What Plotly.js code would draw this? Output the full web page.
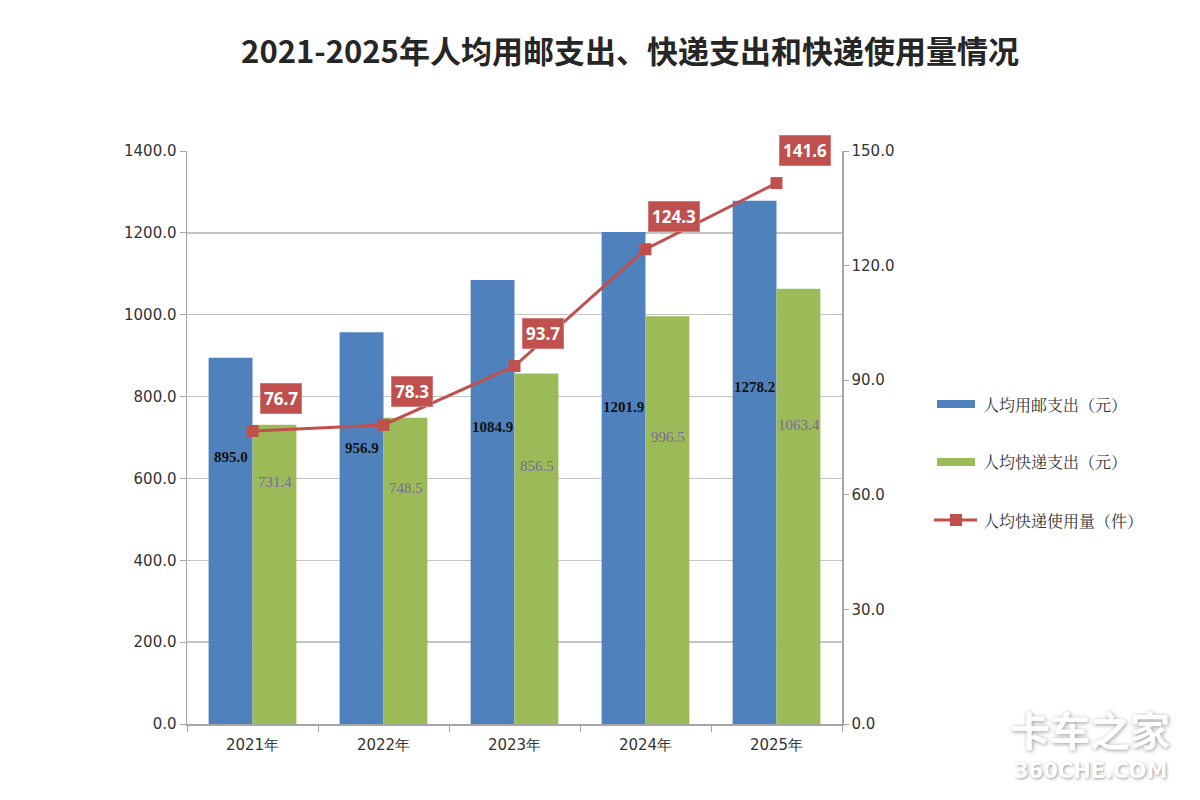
<!DOCTYPE html>
<html>
<head>
<meta charset="utf-8">
<script src="https://cdn.plot.ly/plotly-3.0.1.min.js"></script>
<style>
  html, body { margin: 0; padding: 0; background: #ffffff; }
  #chart { width: 1200px; height: 800px; }
</style>
</head>
<body>
<div id="chart"></div>
<script>
// Yearly postal / express spending per person and express parcels per person
const years = ['2021年', '2022年', '2023年', '2024年', '2025年'];
const postalSpend = [895.0, 956.9, 1084.9, 1201.9, 1278.2];   // 人均用邮支出（元）
const expressSpend = [731.4, 748.5, 856.5, 996.5, 1063.4];    // 人均快递支出（元）
const expressCount = [76.7, 78.3, 93.7, 124.3, 141.6];        // 人均快递使用量（件）

const seriesNames = ['人均用邮支出（元）', '人均快递支出（元）', '人均快递使用量（件）'];
const titleText = '2021-2025年人均用邮支出、快递支出和快递使用量情况';

// Styling
const BLUE = '#4f81bd';
const GREEN = '#9bbb59';
const RED = '#c0504d';
const PURPLE = '#8064a2';
const AXIS_GRAY = '#a6a6a6';
const GRID_GRAY = '#c4c4c4';
const SANS = 'DejaVu Sans, sans-serif';
const CJK = 'Noto Sans CJK SC, sans-serif';
const SERIF = 'Liberation Serif, serif';

// Plot area in page pixels
const W = 1200, H = 800;
const PL = 187, PR = 842, PT = 151, PB = 724;
const px2paperX = px => (px - PL) / (PR - PL);
const px2paperY = py => (PB - py) / (PB - PT);

// Where the in-bar value labels sit (left-axis units)
const postalLabelAt = [652, 674, 726, 775, 823];
const expressLabelAt = [591, 577, 630, 701, 731];

const traces = [
  {
    type: 'bar', name: seriesNames[0], x: years, y: postalSpend,
    marker: { color: BLUE }, yaxis: 'y', showlegend: false, hoverinfo: 'x+y'
  },
  {
    type: 'bar', name: seriesNames[1], x: years, y: expressSpend,
    marker: { color: GREEN }, yaxis: 'y', showlegend: false, hoverinfo: 'x+y'
  },
  {
    type: 'scatter', mode: 'lines+markers', name: seriesNames[2], x: years, y: expressCount,
    yaxis: 'y2', line: { color: RED, width: 3 },
    marker: { color: RED, symbol: 'square', size: 12 }, showlegend: false, cliponaxis: false
  }
];

const annotations = [];

// Value labels inside the bars
years.forEach((yr, i) => {
  annotations.push({
    xref: 'x', yref: 'y', x: yr, y: postalLabelAt[i], xshift: -22,
    text: postalSpend[i].toFixed(1), showarrow: false,
    font: { family: SERIF, size: 15, color: '#111111', weight: 'bold' }
  });
  annotations.push({
    xref: 'x', yref: 'y', x: yr, y: expressLabelAt[i], xshift: 22,
    text: expressSpend[i].toFixed(1), showarrow: false,
    font: { family: SERIF, size: 15, color: PURPLE }
  });
  // Boxed labels for the parcel count line
  annotations.push({
    xref: 'x', yref: 'y2', x: yr, y: expressCount[i], xshift: 28, yshift: 33,
    text: '<b>' + expressCount[i].toFixed(1) + '</b>', showarrow: false,
    bgcolor: RED, bordercolor: '#d27b78', borderwidth: 1, borderpad: 3,
    font: { family: 'Open Sans, sans-serif', size: 17, color: '#ffffff' }
  });
});

// Legend rows (drawn by hand to get wide swatches)
const legendRows = [404, 462, 520];
const shapes = [];
const swatchColors = [BLUE, GREEN];
[0, 1].forEach(k => {
  shapes.push({
    type: 'rect', xref: 'paper', yref: 'paper',
    x0: px2paperX(937), x1: px2paperX(975),
    y0: px2paperY(legendRows[k] - 4), y1: px2paperY(legendRows[k] + 4),
    fillcolor: swatchColors[k], line: { width: 0 }
  });
});
shapes.push({
  type: 'line', xref: 'paper', yref: 'paper',
  x0: px2paperX(934), x1: px2paperX(977),
  y0: px2paperY(legendRows[2]), y1: px2paperY(legendRows[2]),
  line: { color: RED, width: 3 }
});
shapes.push({
  type: 'rect', xref: 'paper', yref: 'paper',
  x0: px2paperX(950), x1: px2paperX(962),
  y0: px2paperY(legendRows[2] - 6), y1: px2paperY(legendRows[2] + 6),
  fillcolor: RED, line: { width: 0 }
});
seriesNames.forEach((nm, k) => {
  annotations.push({
    xref: 'paper', yref: 'paper', x: px2paperX(981), y: px2paperY(legendRows[k]),
    xanchor: 'left', yanchor: 'middle', text: nm, showarrow: false,
    font: { family: 'Noto Serif CJK SC, ' + CJK, size: 16, color: '#333333' }
  });
});

// Site watermark, bottom right
annotations.push({
  xref: 'paper', yref: 'paper', x: px2paperX(1090), y: px2paperY(729),
  xanchor: 'center', yanchor: 'middle',
  text: '<b>卡车之家</b>', showarrow: false,
  font: { family: CJK, size: 40, color: '#ffffff', shadow: '1px 1px 4px #9a9a9a' }
});
annotations.push({
  xref: 'paper', yref: 'paper', x: px2paperX(1090), y: px2paperY(771),
  xanchor: 'center', yanchor: 'middle',
  text: '<b>360CHE.COM</b>', showarrow: false,
  font: { family: SANS, size: 21, color: '#ffffff', shadow: '1px 1px 3px #9a9a9a' }
});

const layout = {
  width: W, height: H,
  margin: { l: PL, r: W - PR, t: PT, b: H - PB, pad: 0 },
  paper_bgcolor: '#ffffff', plot_bgcolor: '#ffffff',
  title: {
    text: '<b>' + titleText + '</b>',
    x: 630 / W, xanchor: 'center', xref: 'container',
    y: 1 - 52 / H, yanchor: 'middle', yref: 'container',
    font: { family: CJK, size: 31, color: '#262626' }
  },
  showlegend: false,
  barmode: 'group', bargap: 0.33, bargroupgap: 0,
  xaxis: {
    type: 'category', showline: true, linecolor: AXIS_GRAY, linewidth: 1.5,
    ticks: 'outside', tickson: 'boundaries', ticklen: 6, tickcolor: AXIS_GRAY,
    ticklabelstandoff: 6,
    showgrid: false, zeroline: false,
    tickfont: { family: SANS, size: 15, color: '#333333' }
  },
  yaxis: {
    range: [0, 1400], dtick: 200, tickformat: '.1f',
    showline: true, linecolor: AXIS_GRAY, linewidth: 1.5,
    ticks: 'outside', ticklen: 6, tickcolor: AXIS_GRAY,
    showgrid: true, gridcolor: GRID_GRAY, gridwidth: 1.5, zeroline: false,
    tickfont: { family: SANS, size: 15, color: '#333333' }
  },
  yaxis2: {
    range: [0, 150], dtick: 30, tickformat: '.1f',
    overlaying: 'y', side: 'right',
    showline: true, linecolor: AXIS_GRAY, linewidth: 1.5,
    ticks: 'outside', ticklen: 5, tickcolor: AXIS_GRAY,
    showgrid: false, zeroline: false,
    tickfont: { family: SANS, size: 15, color: '#333333' }
  },
  shapes: shapes,
  annotations: annotations
};

Plotly.newPlot('chart', traces, layout, { displayModeBar: false, staticPlot: true });
</script>
</body>
</html>
